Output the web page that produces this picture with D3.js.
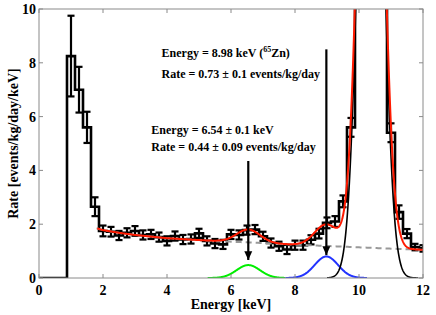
<!DOCTYPE html>
<html>
<head>
<meta charset="utf-8">
<script src="https://cdn.jsdelivr.net/npm/d3@7"></script>
<style>
  body { margin: 0; background: #fff; }
  svg { display: block; font-family: "Liberation Serif", "DejaVu Serif", serif; font-weight: bold; }
</style>
</head>
<body>
<div id="chart"></div>
<script>
// measured spectrum, 0.25 keV bins (bin centres)
const binCenters = [1.0, 1.25, 1.5, 1.75, 2.0, 2.25, 2.5, 2.75, 3.0, 3.25, 3.5, 3.75, 4.0, 4.25, 4.5, 4.75,
  5.0, 5.25, 5.5, 5.75, 6.0, 6.25, 6.5, 6.75, 7.0, 7.25, 7.5, 7.75, 8.0, 8.25, 8.5, 8.75,
  9.0, 9.25, 9.5, 9.75, 10.0, 10.25, 10.5, 10.75, 11.0, 11.25, 11.5, 11.75, 12.0];
const rates = [8.25, 7.0, 5.6, 2.65, 1.75, 1.72, 1.58, 1.68, 1.75, 1.6, 1.62, 1.52, 1.38, 1.56, 1.43, 1.45,
  1.66, 1.38, 1.28, 1.25, 1.62, 1.6, 1.78, 1.8, 1.55, 1.3, 1.18, 1.06, 1.22, 1.22, 1.42, 1.65,
  2.05, 2.1, 2.85, 5.6, 16, 26, 24, 13, 5.4, 2.45, 1.65, 1.15, 1.1];
const rateErrors = [1.5, 0.85, 0.58, 0.35, 0.2, 0.18, 0.17, 0.17, 0.18, 0.17, 0.17, 0.17, 0.17, 0.17, 0.17, 0.17,
  0.17, 0.17, 0.17, 0.17, 0.17, 0.17, 0.17, 0.17, 0.17, 0.17, 0.17, 0.17, 0.17, 0.17, 0.17, 0.18,
  0.2, 0.2, 0.22, 0.35, 1, 1, 1, 1, 0.35, 0.25, 0.17, 0.12, 0.12];
const binWidth = 0.25;

// fitted background (grey dashed)
const bgEnergy = [1.8, 2, 2.5, 3, 3.5, 4, 5, 6, 7, 8, 9, 10, 11, 12];
const bgRate = [1.85, 1.78, 1.68, 1.6, 1.54, 1.48, 1.41, 1.35, 1.3, 1.24, 1.19, 1.14, 1.09, 1.05];

// fitted gaussian peaks: green, blue (65Zn), black (Ge)
const peakCenters = [6.54, 8.98, 10.37];
const peakAmps = [0.48, 0.8, 28];
const peakSigmas = [0.365, 0.365, 0.33];
const peakFrom = [5.27, 7.7, 9.0];
const peakTo = [7.7, 10.25, 11.85];
const peakColors = ["#00ee00", "#2233ff", "#000000"];

const xTicks = [0, 2, 4, 6, 8, 10, 12];
const yTicks = [0, 2, 4, 6, 8, 10];

const width = 436;
const height = 315;
const margin = {top: 9, right: 13, bottom: 37, left: 39};

const x = d3.scaleLinear().domain([0, 12]).range([margin.left, width - margin.right]);
const y = d3.scaleLinear().domain([0, 10]).range([height - margin.bottom, margin.top]);
const bg = d3.scaleLinear().domain(bgEnergy).range(bgRate).clamp(true);

function peak(i, e) {
  const d = e - peakCenters[i];
  return peakAmps[i] * Math.exp(-d * d / (2 * peakSigmas[i] * peakSigmas[i]));
}

const svg = d3.select("#chart")
  .append("svg")
  .attr("width", width)
  .attr("height", height);

svg.append("defs").append("clipPath")
  .attr("id", "plot-clip")
  .append("rect")
  .attr("x", margin.left)
  .attr("y", margin.top)
  .attr("width", width - margin.left - margin.right)
  .attr("height", height - margin.top - margin.bottom);

svg.select("defs").append("marker")
  .attr("id", "arrowhead")
  .attr("viewBox", "0 -5 10 10")
  .attr("refX", 10)
  .attr("refY", 0)
  .attr("markerWidth", 4)
  .attr("markerHeight", 4)
  .attr("markerUnits", "strokeWidth")
  .attr("orient", "auto")
  .append("path")
  .attr("d", "M0,-4.5L10,0L0,4.5Z")
  .attr("fill", "#000");

const plot = svg.append("g").attr("clip-path", "url(#plot-clip)");

// histogram steps
const stepPoints = [[0, 0]];
binCenters.forEach((c, i) => stepPoints.push([c - binWidth / 2, rates[i]]));
stepPoints.push([binCenters[binCenters.length - 1] + binWidth / 2, rates[rates.length - 1]]);

plot.append("path")
  .attr("d", d3.line().x(d => x(d[0])).y(d => y(d[1])).curve(d3.curveStepAfter)(stepPoints))
  .attr("fill", "none")
  .attr("stroke", "#000")
  .attr("stroke-width", 2.6);

// error bars
const cap = 0.11;
const errs = plot.append("g")
  .attr("stroke", "#000")
  .attr("stroke-width", 2.2)
  .selectAll("g")
  .data(binCenters.map((c, i) => ({c, v: rates[i], e: rateErrors[i]})))
  .join("g");

errs.append("line")
  .attr("x1", d => x(d.c)).attr("x2", d => x(d.c))
  .attr("y1", d => y(d.v - d.e)).attr("y2", d => y(d.v + d.e));
errs.append("line")
  .attr("x1", d => x(d.c - cap)).attr("x2", d => x(d.c + cap))
  .attr("y1", d => y(d.v + d.e)).attr("y2", d => y(d.v + d.e));
errs.append("line")
  .attr("x1", d => x(d.c - cap)).attr("x2", d => x(d.c + cap))
  .attr("y1", d => y(d.v - d.e)).attr("y2", d => y(d.v - d.e));

const curve = d3.line().x(d => x(d[0])).y(d => y(d[1]));

// background
plot.append("path")
  .attr("d", curve(d3.range(1.8, 12.01, 0.05).map(e => [e, bg(e)])))
  .attr("fill", "none")
  .attr("stroke", "#999")
  .attr("stroke-width", 2)
  .attr("stroke-dasharray", "6,4");

// peaks
peakCenters.forEach((c, i) => {
  plot.append("path")
    .attr("d", curve(d3.range(peakFrom[i], peakTo[i] + 0.001, 0.01).map(e => [e, peak(i, e)])))
    .attr("fill", "none")
    .attr("stroke", peakColors[i])
    .attr("stroke-width", i === 2 ? 1.6 : 2);
});

// total fit
plot.append("path")
  .attr("d", curve(d3.range(1.82, 12.01, 0.01).map(e => [e, bg(e) + peak(0, e) + peak(1, e) + peak(2, e)])))
  .attr("fill", "none")
  .attr("stroke", "#ff1a00")
  .attr("stroke-width", 2);

// frame and ticks
svg.append("rect")
  .attr("x", margin.left)
  .attr("y", margin.top)
  .attr("width", width - margin.left - margin.right)
  .attr("height", height - margin.top - margin.bottom)
  .attr("fill", "none")
  .attr("stroke", "#8a8a8a")
  .attr("stroke-width", 1);

const tickLen = 4;
const ticks = svg.append("g").attr("stroke", "#8a8a8a").attr("stroke-width", 1);
xTicks.forEach(t => {
  ticks.append("line").attr("x1", x(t)).attr("x2", x(t)).attr("y1", y(0)).attr("y2", y(0) - tickLen);
  ticks.append("line").attr("x1", x(t)).attr("x2", x(t)).attr("y1", y(10)).attr("y2", y(10) + tickLen);
});
yTicks.forEach(t => {
  ticks.append("line").attr("x1", x(0)).attr("x2", x(0) + tickLen).attr("y1", y(t)).attr("y2", y(t));
  ticks.append("line").attr("x1", x(12)).attr("x2", x(12) - tickLen).attr("y1", y(t)).attr("y2", y(t));
});

svg.append("g")
  .selectAll("text")
  .data(xTicks)
  .join("text")
  .attr("x", d => x(d))
  .attr("y", y(0) + 17)
  .attr("text-anchor", "middle")
  .attr("font-size", 14)
  .text(d => d);

svg.append("g")
  .selectAll("text")
  .data(yTicks)
  .join("text")
  .attr("x", x(0) - 3)
  .attr("y", d => y(d) + 5)
  .attr("text-anchor", "end")
  .attr("font-size", 14)
  .text(d => d);

svg.append("text")
  .attr("x", (x(0) + x(12)) / 2)
  .attr("y", height - 6)
  .attr("text-anchor", "middle")
  .attr("font-size", 14)
  .text("Energy [keV]");

svg.append("text")
  .attr("transform", `translate(18,${(y(0) + y(10)) / 2}) rotate(-90)`)
  .attr("text-anchor", "middle")
  .attr("font-size", 14)
  .text("Rate [events/kg/day/keV]");

// arrows
const arrows = [
  {e: 8.98, from: 8.5, to: 0.85},
  {e: 6.54, from: 4.35, to: 0.67}
];
svg.append("g")
  .selectAll("line")
  .data(arrows)
  .join("line")
  .attr("x1", d => x(d.e)).attr("x2", d => x(d.e))
  .attr("y1", d => y(d.from)).attr("y2", d => y(d.to))
  .attr("stroke", "#000")
  .attr("stroke-width", 2.2)
  .attr("marker-end", "url(#arrowhead)");

// annotations
const notes = svg.append("g").attr("font-size", 12);
const zn = notes.append("text").attr("x", x(3.83)).attr("y", y(8.2));
zn.append("tspan").text("Energy = 8.98 keV (");
zn.append("tspan").attr("font-size", 8).attr("dy", -5).text("65");
zn.append("tspan").attr("dy", 5).text("Zn)");
notes.append("text").attr("x", x(3.83)).attr("y", y(7.45)).text("Rate = 0.73 \u00b1 0.1 events/kg/day");
notes.append("text").attr("x", x(3.51)).attr("y", y(5.35)).text("Energy = 6.54 \u00b1 0.1 keV");
notes.append("text").attr("x", x(3.51)).attr("y", y(4.72)).text("Rate = 0.44 \u00b1 0.09 events/kg/day");
</script>
</body>
</html>
